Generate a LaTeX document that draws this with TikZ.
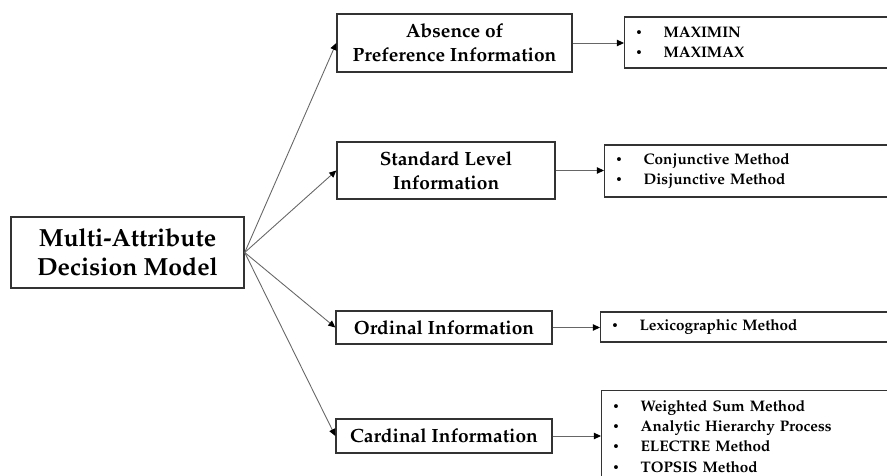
\documentclass[tikz,border=0pt]{standalone}
\usepackage[T1]{fontenc}
\usepackage{mathpazo}
\usetikzlibrary{arrows.meta,positioning}
\tikzset{
  mainbox/.style={draw=black!80, line width=0.85pt, align=center, inner sep=0pt,
    font=\fontsize{14.1}{16.4}\selectfont\bfseries,
    minimum width=4.66cm, minimum height=1.42cm},
  infobox/.style={draw=black!80, line width=0.8pt, align=center, inner sep=0pt,
    font=\fontsize{10.9}{13.6}\selectfont\bfseries},
  listbox/.style={draw=black!80, line width=0.75pt, align=left, anchor=west,
    text width=5.96cm, inner xsep=0.22cm, inner ysep=0pt,
    font=\fontsize{8.7}{11.6}\selectfont\bfseries},
  link/.style={draw=black!60, line width=0.5pt,
    -{Triangle[length=4pt, width=3.6pt, color=black]}},
}
\newcommand{\itm}{\makebox[0.56cm][l]{\raisebox{0.6pt}{\mdseries\fontsize{6.5}{6.5}\selectfont\textbullet}}}

\begin{document}
\begin{tikzpicture}[x=0.02cm, y=-0.02cm]
\useasboundingbox (0,0) rectangle (887,476);
\clip (0,0) rectangle (887,476);

% --- root ---
\node[mainbox] (mad) at (127.5,252.5) {Multi-Attribute\\Decision Model};

% --- kinds of information ---
\node[infobox, minimum width=4.7cm, minimum height=1.16cm] (absence) at (454.5,43) {Absence of\\Preference Information};
\node[infobox, minimum width=4.36cm, minimum height=1.14cm] (standard) at (446,170.5) {Standard Level\\Information};
\node[infobox, minimum width=4.32cm, minimum height=0.66cm] (ordinal) at (444,327.5) {Ordinal Information};
\node[infobox, minimum width=4.32cm, minimum height=0.68cm] (cardinal) at (444,436) {Cardinal Information};

% --- methods (boxes run off the right edge) ---
\node[listbox, minimum height=1.02cm] (maxi) at (624,42.5) {\itm MAXIMIN\\\itm MAXIMAX};
\node[listbox, minimum height=1.04cm] (junct) at (604,171) {\itm Conjunctive Method\\\itm Disjunctive Method};
\node[listbox, minimum height=0.6cm] (lexi) at (600,327) {\itm Lexicographic Method};
\node[listbox, anchor=north west, inner ysep=0.19cm] (card) at (601,390)
  {\itm Weighted Sum Method\\\itm Analytic Hierarchy Process\\\itm ELECTRE Method\\\itm TOPSIS Method};

% --- connectors ---
\foreach \n in {absence,standard,ordinal,cardinal}
  \draw[link] (mad.east) -- (\n.west);
\draw[link] (absence.east) -- (absence.east -| maxi.west);
\draw[link] (standard.east) -- (standard.east -| junct.west);
\draw[link] (ordinal.east) -- (ordinal.east -| lexi.west);
\draw[link] (cardinal.east) -- (cardinal.east -| card.west);

\end{tikzpicture}
\end{document}
